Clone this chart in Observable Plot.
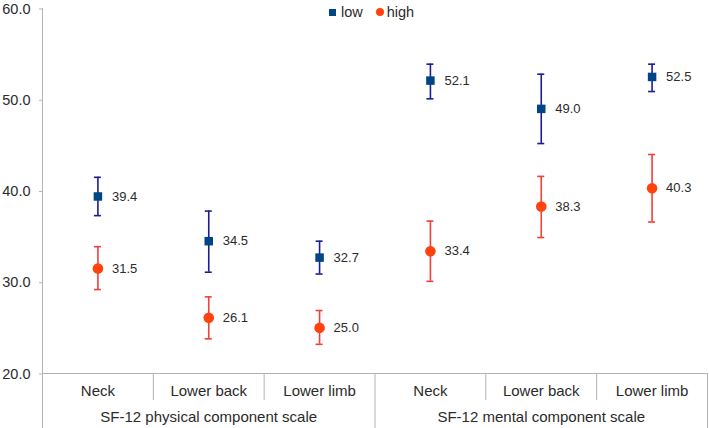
<!DOCTYPE html>
<html>
<head>
<meta charset="utf-8">
<script src="https://cdn.jsdelivr.net/npm/d3@7"></script>
<script src="https://cdn.jsdelivr.net/npm/@observablehq/plot@0.6"></script>
<style>
  html, body { margin: 0; padding: 0; background: #fff; }
  #wrap { position: relative; width: 709px; height: 428px; font-family: "Liberation Sans", Arial, sans-serif; color: #2b2b2b; }
  #legend { position: absolute; top: 4px; left: 329px; font-size: 14.5px; display: flex; align-items: center; }
  #legend span.item { display: inline-flex; align-items: center; margin-right: 13px; }
  #legend .sq { width: 7px; height: 7px; background: #004586; display: inline-block; margin-right: 5px; }
  #legend .ci { width: 8px; height: 8px; border-radius: 50%; background: #ff420e; display: inline-block; margin-right: 3px; }
</style>
</head>
<body>
<div id="wrap">
  <div id="chart"></div>
  <div id="legend"></div>
</div>
<script>
const categories = ["Neck", "Lower back", "Lower limb", "Neck", "Lower back", "Lower limb"];
const groups = ["SF-12 physical component scale", "SF-12 mental component scale"];
const seriesNames = ["low", "high"];

const lowMean = [39.4, 34.5, 32.7, 52.1, 49.0, 52.5];
const lowLower = [37.3, 31.1, 30.9, 50.1, 45.2, 50.9];
const lowUpper = [41.5, 37.8, 34.5, 53.9, 52.8, 53.9];

const highMean = [31.5, 26.1, 25.0, 33.4, 38.3, 40.3];
const highLower = [29.2, 23.8, 23.2, 30.1, 34.9, 36.6];
const highUpper = [33.9, 28.4, 26.9, 36.7, 41.6, 44.0];

const yTicks = [20, 30, 40, 50, 60];

const lowRows = categories.map((c, i) => ({ pos: i + 0.5, mean: lowMean[i], lo: lowLower[i], hi: lowUpper[i] }));
const highRows = categories.map((c, i) => ({ pos: i + 0.5, mean: highMean[i], lo: highLower[i], hi: highUpper[i] }));

const catTicks = categories.map((c, i) => i + 0.5);
const groupTicks = groups.map((g, i) => i * 3 + 1.5);
const sepTicks = [1, 2, 4, 5];
const boxTicks = [0, 3, 6];

const axisGray = "#b3b3b3";
const textColor = "#2b2b2b";
const lowColor = "#004586", lowBar = "#1c1c94";
const highColor = "#ff420e", highBar = "#f0403a";
const fmt = d3.format(".1f");

const errMarks = (rows, barColor) => [
  Plot.ruleX(rows, { x: "pos", y1: "lo", y2: "hi", stroke: barColor, strokeWidth: 1.6 }),
  Plot.ruleY(rows, { x1: "pos", x2: "pos", y: "hi", stroke: barColor, strokeWidth: 1.6, insetLeft: -3.5, insetRight: -3.5 }),
  Plot.ruleY(rows, { x1: "pos", x2: "pos", y: "lo", stroke: barColor, strokeWidth: 1.6, insetLeft: -3.5, insetRight: -3.5 })
];

const chart = Plot.plot({
  width: 709,
  height: 428,
  marginTop: 8,
  marginBottom: 55,
  marginLeft: 42,
  marginRight: 2,
  style: { fontFamily: "Liberation Sans, Arial, sans-serif", fontSize: "15px", color: textColor, background: "#fff" },
  x: { domain: [0, 6], axis: null },
  y: { domain: [20, 60], axis: null },
  marks: [
    Plot.ruleX([0], { stroke: axisGray }),
    Plot.ruleY([20], { stroke: axisGray }),
    Plot.axisY(yTicks, { label: null, tickSize: 3, tickPadding: 9, tickFormat: fmt, stroke: axisGray, fill: textColor, fontSize: 14.5, dy: 0.5 }),
    Plot.axisX(sepTicks, { label: null, tickSize: 27, text: null, stroke: axisGray }),
    Plot.axisX(boxTicks, { label: null, tickSize: 55, text: null, stroke: axisGray }),
    Plot.axisX(catTicks, { label: null, tickSize: 0, tickPadding: 12, tickFormat: d => categories[Math.floor(d)], fill: textColor, fontSize: 15 }),
    Plot.axisX(groupTicks, { label: null, tickSize: 0, tickPadding: 38, tickFormat: d => groups[Math.floor(d / 3)], fill: textColor, fontSize: 15 }),
    ...errMarks(lowRows, lowBar),
    ...errMarks(highRows, highBar),
    Plot.dot(lowRows, { x: "pos", y: "mean", symbol: "square", r: 4.8, fill: lowColor, stroke: "none" }),
    Plot.dot(highRows, { x: "pos", y: "mean", symbol: "circle", r: 5.3, fill: highColor, stroke: "none" }),
    Plot.text(lowRows, { x: "pos", y: "mean", text: d => fmt(d.mean), dx: 14, textAnchor: "start", fontSize: 13, fill: textColor }),
    Plot.text(highRows, { x: "pos", y: "mean", text: d => fmt(d.mean), dx: 14, textAnchor: "start", fontSize: 13, fill: textColor })
  ]
});
document.getElementById("chart").appendChild(chart);

const legend = document.getElementById("legend");
seriesNames.forEach((name, i) => {
  const item = document.createElement("span");
  item.className = "item";
  const sw = document.createElement("span");
  sw.className = i === 0 ? "sq" : "ci";
  item.appendChild(sw);
  item.appendChild(document.createTextNode(name));
  legend.appendChild(item);
});
</script>
</body>
</html>
